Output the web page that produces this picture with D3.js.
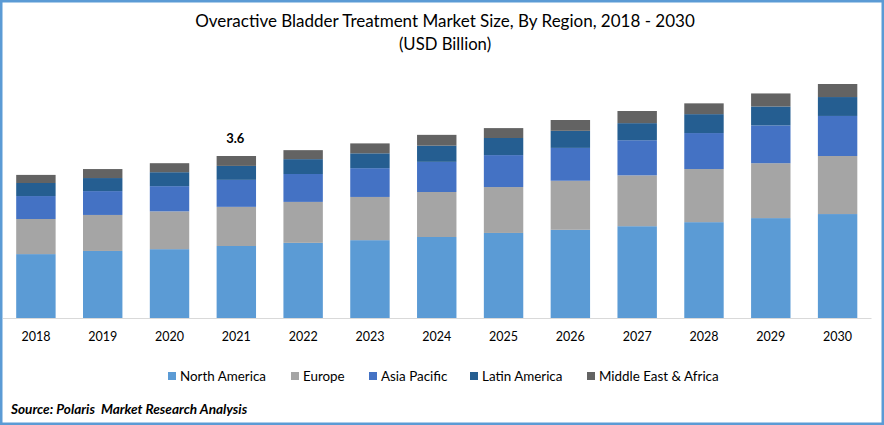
<!DOCTYPE html>
<html><head><meta charset="utf-8">
<script src="https://cdn.jsdelivr.net/npm/d3@7/dist/d3.min.js"></script>
<style>html,body{margin:0;padding:0;background:#fff}svg{display:block}text{font-family:Lato,"Noto Sans",sans-serif;fill:#000;white-space:pre}</style>
</head><body><svg id="c" width="884" height="425"></svg>
<script>
const years=["2018","2019","2020","2021","2022","2023","2024","2025","2026","2027","2028","2029","2030"];
const seriesNames=["North America","Europe","Asia Pacific","Latin America","Middle East & Africa"];
const colors=["#5B9BD5","#A5A5A5","#4472C4","#255E91","#636363"];
const northAmerica=[1.42,1.49,1.53,1.60,1.67,1.73,1.80,1.89,1.96,2.04,2.13,2.22,2.31];
const europe=[0.78,0.80,0.84,0.87,0.91,0.96,1.00,1.02,1.09,1.13,1.18,1.22,1.29];
const asiaPacific=[0.51,0.53,0.56,0.60,0.62,0.64,0.67,0.71,0.73,0.78,0.80,0.84,0.89];
const latinAmerica=[0.29,0.29,0.31,0.31,0.33,0.33,0.36,0.38,0.38,0.38,0.42,0.42,0.42];
const middleEastAfrica=[0.18,0.20,0.20,0.22,0.20,0.22,0.24,0.22,0.24,0.27,0.24,0.29,0.29];
const labelledYear="2021", labelText="3.6";

const W=884,H=425,base=318,pxPerUnit=45;
const svg=d3.select("#c");
svg.append("rect").attr("x",1.25).attr("y",1.25).attr("width",W-2.5).attr("height",H-2.5)
  .attr("fill","#fff").attr("stroke","#5B9BD5").attr("stroke-width",2.5);

const all=[northAmerica,europe,asiaPacific,latinAmerica,middleEastAfrica];
const rows=years.map((y,i)=>{const r={year:y};seriesNames.forEach((s,k)=>r[s]=all[k][i]);return r;});
const stack=d3.stack().keys(seriesNames)(rows);
const x=d3.scaleBand().domain(years).range([2.5,871]).paddingInner(0.41).paddingOuter(0.205);
const y=d3.scaleLinear().domain([0,6]).range([base,base-6*pxPerUnit]);

svg.append("g").selectAll("g").data(stack).join("g").attr("fill",(d,i)=>colors[i])
 .selectAll("rect").data(d=>d).join("rect")
 .attr("x",d=>x(d.data.year)).attr("width",x.bandwidth())
 .attr("y",d=>y(d[1])).attr("height",d=>y(d[0])-y(d[1]));

const ax=svg.append("g").attr("transform",`translate(0,${base})`).call(d3.axisBottom(x).tickSize(0).tickPadding(14));
ax.select(".domain").attr("stroke","#D9D9D9").attr("stroke-width",1);
ax.selectAll("text").style("font-family",'Lato,"Noto Sans",sans-serif').style("font-size","12.5px").attr("fill","#000");

const top21=d3.sum(all,a=>a[years.indexOf(labelledYear)]);
svg.append("text").attr("x",x(labelledYear)+x.bandwidth()/2-1).attr("y",y(top21)-13)
 .attr("text-anchor","middle").style("font-size","13px").style("font-weight","700").text(labelText);

svg.append("text").attr("x",445).attr("y",27).attr("text-anchor","middle").style("font-size","17px").text("Overactive Bladder Treatment Market Size, By Region, 2018 - 2030");
svg.append("text").attr("x",445).attr("y",50).attr("text-anchor","middle").style("font-size","16.7px").text("(USD Billion)");

const legendX=[168,291,369,470,587];
const lg=svg.append("g").selectAll("g").data(seriesNames).join("g").attr("transform",(d,i)=>`translate(${legendX[i]},372)`);
lg.append("rect").attr("width",8).attr("height",8).attr("fill",(d,i)=>colors[i]);
lg.append("text").attr("x",12).attr("y",8.5).style("font-size","13.4px").text(d=>d);

svg.append("text").attr("x",11).attr("y",414).style("font-size","13.6px").style("font-weight","700").style("font-style","italic").text("Source: Polaris  Market Research Analysis");
</script></body></html>
